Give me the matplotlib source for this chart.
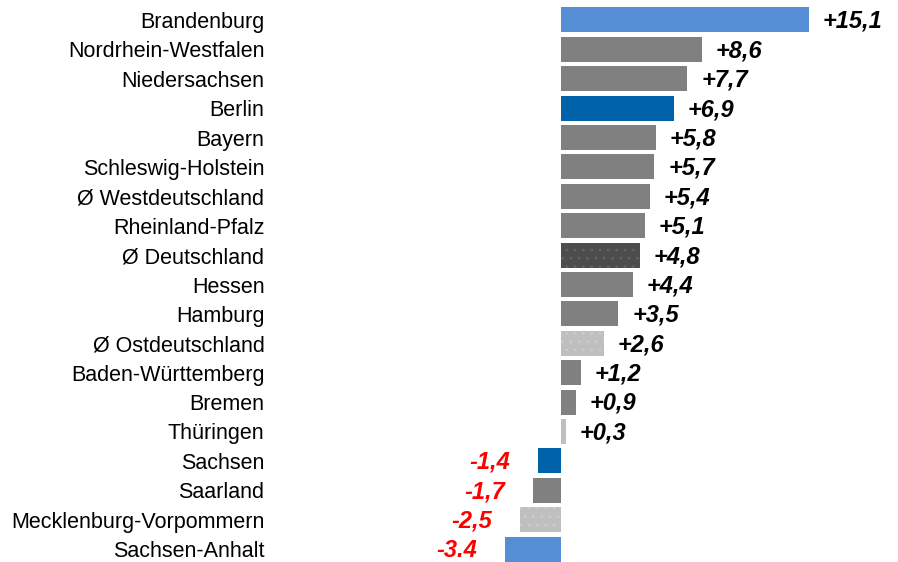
import matplotlib
matplotlib.use('Agg')
import matplotlib.pyplot as plt

plt.rcParams['font.family'] = ['Liberation Sans', 'DejaVu Sans']
plt.rcParams['hatch.linewidth'] = 0.6

# data, top to bottom
regions = ['Brandenburg', 'Nordrhein-Westfalen', 'Niedersachsen', 'Berlin', 'Bayern',
           'Schleswig-Holstein', 'Ø Westdeutschland', 'Rheinland-Pfalz', 'Ø Deutschland',
           'Hessen', 'Hamburg', 'Ø Ostdeutschland', 'Baden-Württemberg', 'Bremen',
           'Thüringen', 'Sachsen', 'Saarland', 'Mecklenburg-Vorpommern', 'Sachsen-Anhalt']
values = [15.1, 8.6, 7.7, 6.9, 5.8, 5.7, 5.4, 5.1, 4.8, 4.4, 3.5, 2.6, 1.2, 0.9, 0.3,
          -1.4, -1.7, -2.5, -3.4]
value_labels = ['+15,1', '+8,6', '+7,7', '+6,9', '+5,8', '+5,7', '+5,4', '+5,1', '+4,8',
                '+4,4', '+3,5', '+2,6', '+1,2', '+0,9', '+0,3', '-1,4', '-1,7', '-2,5', '-3.4']

LIGHT_BLUE = '#558ed5'
DARK_BLUE = '#0062a8'
GREY = '#808080'
DARK_GREY = '#4d4d4d'
LIGHT_GREY = '#bfbfbf'

colors = {'Brandenburg': LIGHT_BLUE, 'Sachsen-Anhalt': LIGHT_BLUE,
          'Berlin': DARK_BLUE, 'Sachsen': DARK_BLUE,
          'Ø Deutschland': DARK_GREY, 'Ø Ostdeutschland': LIGHT_GREY,
          'Mecklenburg-Vorpommern': LIGHT_GREY, 'Thüringen': LIGHT_GREY}
dotted = {'Ø Deutschland': '#666666', 'Ø Ostdeutschland': '#cecece',
          'Mecklenburg-Vorpommern': '#cecece'}

fig = plt.figure(figsize=(8.98, 5.62), dpi=100)
ax = fig.add_axes([270 / 898, 0, 628 / 898, 1])

ypos = list(range(len(regions)))
for y, name, v, lab in zip(ypos, regions, values, value_labels):
    c = colors.get(name, GREY)
    if name in dotted:
        ax.barh(y, v, height=0.85, color=c, edgecolor=dotted[name], hatch='..', linewidth=0)
    else:
        ax.barh(y, v, height=0.85, color=c, linewidth=0)
    if v >= 0:
        ax.annotate(lab, (v, y), xytext=(10, -1), textcoords='offset points',
                    ha='left', va='center', fontsize=17, fontweight='bold',
                    fontstyle='italic', color='black')
    else:
        ax.annotate(lab, (v, y), xytext=(-20, -1), textcoords='offset points',
                    ha='right', va='center', fontsize=17, fontweight='bold',
                    fontstyle='italic', color='red')

ax.set_xlim(-17.74, 20.55)
ax.set_ylim(18.44, -0.68)
ax.set_yticks(ypos)
ax.set_yticklabels(regions, fontsize=15.5)
ax.tick_params(axis='y', length=0, pad=4)
ax.set_xticks([])
for s in ax.spines.values():
    s.set_visible(False)
ax.patch.set_alpha(0)

fig.savefig('out.png', dpi=100)
